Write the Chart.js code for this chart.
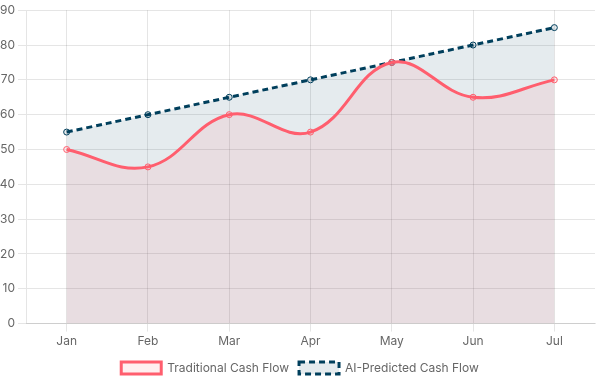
<!DOCTYPE html>
<html>
<head>
<meta charset="utf-8">
<script src="https://cdn.jsdelivr.net/npm/chart.js@4/dist/chart.umd.min.js"></script>
<style>
  html, body { margin: 0; padding: 0; background: #fff; }
  #wrap { width: 600px; height: 384px; }
</style>
</head>
<body>
<div id="wrap"><canvas id="cashflow"></canvas></div>
<script>
const months = ["Jan", "Feb", "Mar", "Apr", "May", "Jun", "Jul"];
const traditionalFlow = [50, 45, 60, 55, 75, 65, 70];
const aiPredictedFlow = [55, 60, 65, 70, 75, 80, 85];

Chart.defaults.font.family = "Inter, 'Noto Sans', sans-serif";
Chart.defaults.font.size = 12;
Chart.defaults.color = "#666";

const ctx = document.querySelector("#cashflow").getContext("2d");

const chart = new Chart(ctx, {
  type: "line",
  data: {
    labels: months,
    datasets: [
      {
        label: "Traditional Cash Flow",
        data: traditionalFlow,
        borderColor: "#ff5e6e",
        backgroundColor: "rgba(255, 94, 110, 0.1)",
        borderWidth: 3,
        tension: 0.4,
        fill: true,
        pointRadius: 3,
        pointBorderWidth: 1,
      },
      {
        label: "AI-Predicted Cash Flow",
        data: aiPredictedFlow,
        borderColor: "#003f5c",
        backgroundColor: "rgba(0, 63, 92, 0.1)",
        borderWidth: 3,
        borderDash: [6, 4],
        tension: 0.4,
        fill: true,
        pointRadius: 3,
        pointBorderWidth: 1,
      },
    ],
  },
  options: {
    responsive: true,
    maintainAspectRatio: false,
    animation: false,
    plugins: {
      legend: { position: "bottom" },
      tooltip: { enabled: false },
    },
    scales: {
      x: { offset: true },
      y: {
        beginAtZero: true,
        max: 90,
        ticks: { stepSize: 10 },
        // the original axis sits a bit tighter to the left edge
        afterFit: (scale) => { scale.width = 26; },
      },
    },
  },
});
</script>
</body>
</html>
